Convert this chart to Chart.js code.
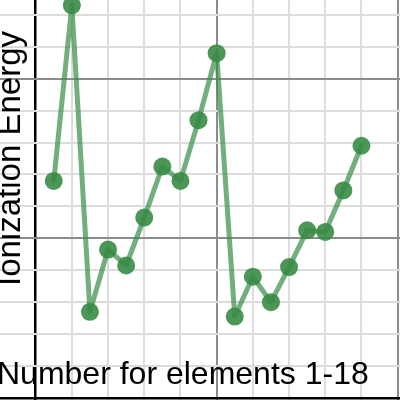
<!DOCTYPE html>
<html>
<head>
<meta charset="utf-8">
<script src="https://cdn.jsdelivr.net/npm/chart.js@4.4.0/dist/chart.umd.min.js"></script>
<style>
  html, body { margin: 0; padding: 0; background: #fff; }
  #wrap { width: 400px; height: 400px; }
</style>
</head>
<body>
<div id="wrap"><canvas id="ionChart" width="400" height="400"></canvas></div>
<script>
// atomic number 1-18 and first ionization energy (eV)
const elementNumbers = [1, 2, 3, 4, 5, 6, 7, 8, 9, 10, 11, 12, 13, 14, 15, 16, 17, 18];
const ionizationEnergy = [13.6, 24.6, 5.4, 9.3, 8.3, 11.3, 14.5, 13.6, 17.4, 21.6, 5.1, 7.6, 6.0, 8.2, 10.5, 10.4, 13.0, 15.8];
const xGridValues = [0, 2, 4, 6, 8, 10, 12, 14, 16, 18, 20];
const yGridValues = [0, 2, 4, 6, 8, 10, 12, 14, 16, 18, 20, 22, 24];
const xTitle = 'Number for elements 1-18';
const yTitle = 'Ionization Energy';

const points = elementNumbers.map((n, i) => ({ x: n, y: ionizationEnergy[i] }));

const gridColor = (ctx) => {
    const v = ctx.tick.value;
    if (v === 0) return '#000';
    if (v % 10 === 0) return '#8c8c8c';
    return '#dcdcdc';
};
const gridWidth = (ctx) => (ctx.tick.value === 0 ? 2.5 : 2);

const labelPlugin = {
    id: 'desmosLabels',
    afterDraw(chart) {
        const ctx = chart.ctx;
        ctx.save();
        ctx.fillStyle = '#000';
        ctx.textBaseline = 'alphabetic';
        ctx.textAlign = 'left';
        ctx.font = '32px "Liberation Sans", Arial, sans-serif';
        ctx.fillText(xTitle, -3, 384);
        ctx.font = '33px "Liberation Sans", Arial, sans-serif';
        ctx.translate(19.5, 286);
        ctx.rotate(-Math.PI / 2);
        ctx.fillText(yTitle, 0, 0);
        ctx.restore();
    }
};

const ionChart = new Chart(document.getElementById('ionChart'), {
    type: 'scatter',
    data: {
        datasets: [{
            label: yTitle,
            data: points,
            showLine: true,
            borderColor: 'rgba(56, 140, 70, 0.7)',
            borderWidth: 5,
            borderJoinStyle: 'round',
            borderCapStyle: 'round',
            backgroundColor: 'rgba(56, 140, 70, 0.9)',
            pointBorderWidth: 0,
            pointRadius: 9,
            pointHoverRadius: 9,
            tension: 0
        }]
    },
    options: {
        responsive: false,
        animation: false,
        events: [],
        layout: { padding: 0, autoPadding: false },
        plugins: {
            legend: { display: false },
            tooltip: { enabled: false }
        },
        scales: {
            x: {
                type: 'linear',
                min: -1.97,
                max: 20.13,
                afterBuildTicks: (axis) => { axis.ticks = xGridValues.map(v => ({ value: v })); },
                ticks: { display: false },
                border: { display: false },
                grid: { drawTicks: false, color: gridColor, lineWidth: gridWidth }
            },
            y: {
                type: 'linear',
                min: -0.125,
                max: 24.93,
                afterBuildTicks: (axis) => { axis.ticks = yGridValues.map(v => ({ value: v })); },
                ticks: { display: false },
                border: { display: false },
                grid: { drawTicks: false, color: gridColor, lineWidth: gridWidth }
            }
        }
    },
    plugins: [labelPlugin]
});
</script>
</body>
</html>
